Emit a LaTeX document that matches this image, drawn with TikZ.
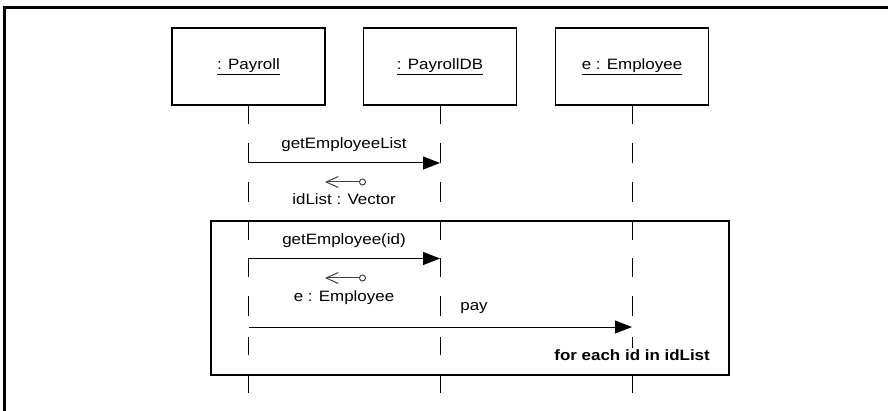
\documentclass[tikz,border=0pt]{standalone}
\usepackage{fontspec}
\setmainfont{Liberation Sans}[FakeStretch=1.13]
\usetikzlibrary{arrows.meta}
\begin{document}
\begin{tikzpicture}[x=1pt,y=-1pt,
  font=\fontsize{15}{18}\selectfont,
  obj/.style={draw, line width=1.5pt, minimum width=153pt, minimum height=77pt, inner sep=0pt},
  life/.style={line width=1pt},
  msg/.style={line width=1pt, -{Triangle[length=17pt,width=13pt]}},
  ret/.style={line width=1pt, draw=black!75, {Straight Barb[length=12pt,width=11pt]}-{Circle[open,length=7pt,width=7pt]}},
  lbl/.style={anchor=base, inner sep=0pt},
  loopbox/.style={draw, line width=2pt, minimum width=518pt, minimum height=154pt, inner sep=0pt}]
\fill[white] (0,0) rectangle (888,411);
\useasboundingbox (0,0) rectangle (888,411);
% outer border
\draw[line width=3pt] (4.5,411) -- (4.5,8) -- (888,8);
% objects
\node[obj] (p) at (248.5,66.5) {\underline{: Payroll}};
\node[obj] (db) at (440,66.5) {\underline{: PayrollDB}};
\node[obj] (e) at (632,66.5) {\underline{e : Employee}};
% lifelines
\foreach \n in {p,db,e}{
  \foreach \a/\b in {105/124,143/163,182/202,220/240,258/277,296/316,337/355,374/393}{
    \draw[life] (\n.south |- 0,\a) -- (\n.south |- 0,\b);
  }
}
% loop frame
\node[loopbox, anchor=north west] (loop) at (209.5,220) {};
% message 1
\coordinate (m1s) at (p.south |- 0,163);
\coordinate (m1e) at (db.south |- 0,163);
\draw[msg] (m1s) -- (m1e);
\node[lbl] (l1) at (344,149) {getEmployeeList};
\coordinate (r1a) at (325,182);
\coordinate (r1b) at (366,182);
\draw[ret] (r1a) -- (r1b);
\node[lbl] (l2) at (344,205) {idList : Vector};
% message 2
\coordinate (m2s) at (p.south |- 0,258.5);
\coordinate (m2e) at (db.south |- 0,258.5);
\draw[msg] (m2s) -- (m2e);
\node[lbl] (l3) at (344,245) {getEmployee(id)};
\coordinate (r2a) at (325,278);
\coordinate (r2b) at (366,278);
\draw[ret] (r2a) -- (r2b);
\node[lbl] (l4) at (344,301.5) {e : Employee};
% message 3
\coordinate (m3s) at (p.south |- 0,327);
\coordinate (m3e) at (e.south |- 0,327);
\draw[msg] (m3s) -- (m3e);
\node[lbl] (l5) at (474,311) {pay};
% loop guard
\node[anchor=base east, inner sep=1.5pt, fill=white, font=\fontsize{15}{18}\selectfont\bfseries] (g) at (711.5,360) {for each id in idList};
\end{tikzpicture}
\end{document}
